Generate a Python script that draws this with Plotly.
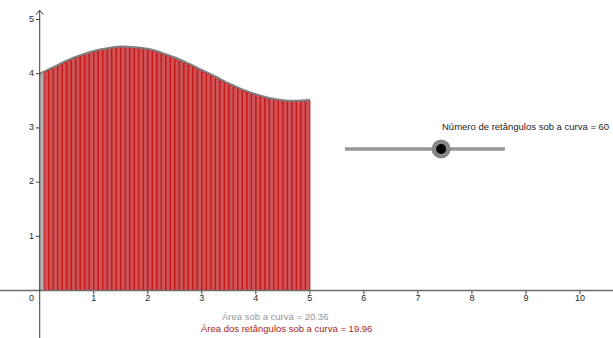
import plotly.graph_objects as go

# ---- data ----
curve_x = [0, 0.25, 0.5, 0.75, 1.0, 1.25, 1.5, 1.75, 2.0, 2.25, 2.5, 2.75, 3.0,
           3.25, 3.5, 3.75, 4.0, 4.25, 4.5, 4.75, 5.0]
curve_y = [4.00, 4.12, 4.24, 4.34, 4.42, 4.47, 4.50, 4.49, 4.46, 4.39, 4.30, 4.19,
           4.07, 3.95, 3.82, 3.71, 3.62, 3.55, 3.51, 3.50, 3.52]

n_rect = 60
rect_width = 5 / n_rect
# heights of the drawn rectangles (the first interval shows only the grey area)
rect_heights = [4.04, 4.08, 4.12, 4.16, 4.20, 4.24, 4.28, 4.31, 4.34, 4.37, 4.40, 4.42,
                4.44, 4.46, 4.47, 4.49, 4.49, 4.50,
                4.50, 4.49, 4.48, 4.47, 4.45, 4.44, 4.41, 4.39, 4.36, 4.33, 4.30, 4.26,
                4.23, 4.19, 4.15, 4.11, 4.07, 4.03, 3.99, 3.95, 3.90, 3.86, 3.82, 3.79,
                3.75, 3.71, 3.68, 3.65, 3.62, 3.60, 3.57, 3.55, 3.54, 3.52, 3.51, 3.50,
                3.50, 3.50, 3.50, 3.50, 3.51]
rect_left = [(k + 1) * rect_width for k in range(len(rect_heights))]

x_ticks = [1, 2, 3, 4, 5, 6, 7, 8, 9, 10]
y_ticks = [1, 2, 3, 4, 5]

area_curve = 20.36
area_rects = 19.96
n_label = 60
slider_value = 7.43
slider_min, slider_max = 5.65, 8.61
slider_y = 2.61

W, H = 613, 338
XR = [-0.735, 10.611]
YR = [-0.876, 5.36]

fig = go.Figure()

# grey area under the curve
fig.add_trace(go.Scatter(x=curve_x, y=curve_y, mode="lines", line=dict(width=0, shape="spline"),
                         fill="tozeroy", fillcolor="rgb(176,176,176)", hoverinfo="skip"))

# rectangles as closed polygons
px, py = [], []
for xl, h in zip(rect_left, rect_heights):
    px += [xl, xl, xl + rect_width, xl + rect_width, xl, None]
    py += [0, h, h, 0, 0, None]
fig.add_trace(go.Scatter(x=px, y=py, mode="lines", fill="toself",
                         fillcolor="rgb(204,84,88)",
                         line=dict(color="rgb(198,22,22)", width=1), hoverinfo="skip"))

# curve
fig.add_trace(go.Scatter(x=curve_x, y=curve_y, mode="lines",
                         line=dict(color="rgb(128,128,128)", width=2, shape="spline"),
                         hoverinfo="skip"))

# axes lines
fig.add_shape(type="line", x0=XR[0], x1=XR[1], y0=0, y1=0,
              line=dict(color="rgb(110,110,110)", width=1.6))
fig.add_shape(type="line", x0=0, x1=0, y0=YR[0], y1=5.17,
              line=dict(color="rgb(60,60,60)", width=1))
# arrow on y axis
fig.add_trace(go.Scatter(x=[-0.07, 0, 0.07], y=[5.09, 5.17, 5.09], mode="lines",
                         line=dict(color="rgb(60,60,60)", width=1), hoverinfo="skip"))

# tick marks
tx, ty = [], []
for t in x_ticks:
    tx += [t, t, None]
    ty += [0, -0.07, None]
fig.add_trace(go.Scatter(x=tx, y=ty, mode="lines", line=dict(color="rgb(60,60,60)", width=1),
                         hoverinfo="skip"))
sx, sy = [], []
for t in y_ticks:
    sx += [0, -0.07, None]
    sy += [t, t, None]
fig.add_trace(go.Scatter(x=sx, y=sy, mode="lines", line=dict(color="rgb(60,60,60)", width=1),
                         hoverinfo="skip"))

# tick labels
tick_font = dict(family="Liberation Sans, Arial", size=9, color="rgb(40,40,40)")
fig.add_trace(go.Scatter(x=[-0.15] + x_ticks, y=[-0.16] * (len(x_ticks) + 1), mode="text",
                         text=[str(v) for v in [0] + x_ticks], textposition="middle center",
                         textfont=tick_font, hoverinfo="skip"))
fig.add_trace(go.Scatter(x=[-0.15] * len(y_ticks), y=y_ticks, mode="text",
                         text=[str(v) for v in y_ticks], textposition="middle center",
                         textfont=tick_font, hoverinfo="skip"))

# slider
fig.add_shape(type="line", x0=slider_min, x1=slider_max, y0=slider_y, y1=slider_y,
              line=dict(color="rgb(150,150,150)", width=3.5), layer="below")
fig.add_trace(go.Scatter(x=[slider_value], y=[slider_y], mode="markers",
                         marker=dict(size=19, color="rgb(135,135,135)"), hoverinfo="skip"))
fig.add_trace(go.Scatter(x=[slider_value], y=[slider_y], mode="markers",
                         marker=dict(size=10, color="black"), hoverinfo="skip"))


def pxx(p):
    return p / W


def pxy(q):
    return 1 - q / H


font = "Liberation Sans, Arial"
fig.add_annotation(x=pxx(440), y=pxy(126), xref="paper", yref="paper",
                   xanchor="left", yanchor="middle", showarrow=False,
                   text=f"Número de retângulos sob a curva = {n_label}",
                   font=dict(family=font, size=9.5, color="rgb(30,30,30)"))
fig.add_annotation(x=pxx(219.5), y=pxy(316), xref="paper", yref="paper",
                   xanchor="left", yanchor="middle", showarrow=False,
                   text=f"Área sob a curva = {area_curve:.2f}",
                   font=dict(family=font, size=9.5, color="rgb(150,150,150)"))
fig.add_annotation(x=pxx(199), y=pxy(328), xref="paper", yref="paper",
                   xanchor="left", yanchor="middle", showarrow=False,
                   text=f"Área dos retângulos sob a curva = {area_rects:.2f}",
                   font=dict(family=font, size=9.5, color="rgb(175,25,25)"))

fig.update_layout(
    width=W, height=H, margin=dict(l=0, r=0, t=0, b=0),
    paper_bgcolor="white", plot_bgcolor="white", showlegend=False,
    xaxis=dict(range=XR, visible=False, fixedrange=True),
    yaxis=dict(range=YR, visible=False, fixedrange=True),
)

fig.write_html("out.html", config={"displayModeBar": False, "staticPlot": True},
               post_script="document.body.style.margin='0';document.body.style.overflow='hidden';")
